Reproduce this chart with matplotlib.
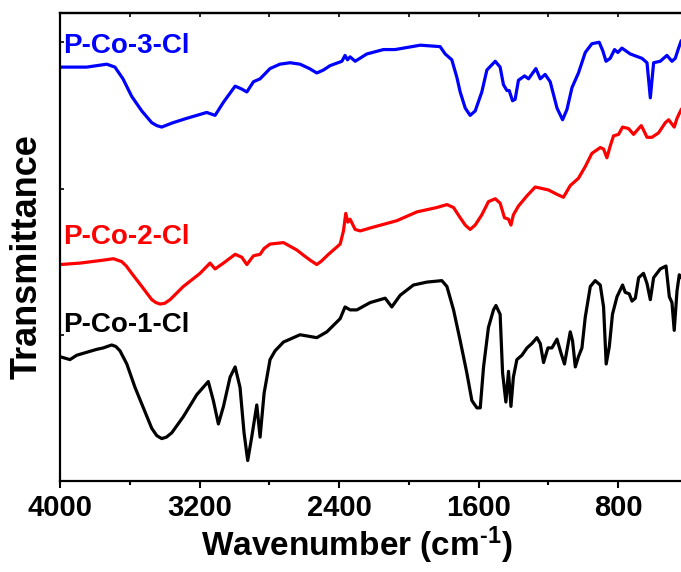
import numpy as np
import matplotlib
matplotlib.use("Agg")
import matplotlib.pyplot as plt

plt.rcParams['font.family'] = ['Liberation Sans', 'DejaVu Sans']
plt.rcParams['font.weight'] = 'bold'
plt.rcParams['mathtext.fontset'] = 'custom'
plt.rcParams['mathtext.rm'] = 'Liberation Sans:bold'
plt.rcParams['mathtext.bf'] = 'Liberation Sans:bold'
plt.rcParams['mathtext.it'] = 'Liberation Sans:bold'

# FTIR spectra (wavenumber in cm-1, transmittance offset a.u.)
wn_co3 = [4000, 3847, 3732, 3685, 3639, 3589, 3531, 3474, 3445, 3417, 3385, 3352, 3273,
          3159, 3111, 3063, 2996, 2958, 2929, 2891, 2853, 2796, 2740, 2681, 2624, 2570,
          2528, 2490, 2452, 2384, 2366, 2352, 2337, 2308, 2241, 2146, 2079, 2031, 1935,
          1821, 1792, 1754, 1725, 1706, 1677, 1649, 1620, 1582, 1553, 1505, 1477, 1458,
          1438, 1425, 1406, 1391, 1372, 1337, 1314, 1272, 1247, 1219, 1190, 1151, 1119,
          1094, 1065, 1028, 989, 951, 909, 888, 870, 846, 821, 802, 779, 731, 664, 635,
          616, 597, 559, 521, 492, 473, 454, 439, 400]
t_co3 = [2.83, 2.83, 2.85, 2.83, 2.75, 2.63, 2.53, 2.45, 2.43, 2.42, 2.435, 2.45, 2.48,
         2.52, 2.50, 2.59, 2.70, 2.68, 2.66, 2.73, 2.75, 2.82, 2.85, 2.86, 2.85, 2.82,
         2.79, 2.81, 2.84, 2.87, 2.91, 2.88, 2.90, 2.87, 2.92, 2.95, 2.95, 2.96, 2.98,
         2.97, 2.92, 2.88, 2.76, 2.66, 2.55, 2.50, 2.53, 2.66, 2.81, 2.87, 2.83, 2.71,
         2.67, 2.67, 2.60, 2.61, 2.74, 2.77, 2.75, 2.82, 2.75, 2.78, 2.73, 2.55, 2.47,
         2.54, 2.69, 2.79, 2.93, 2.99, 3.00, 2.94, 2.87, 2.89, 2.95, 2.93, 2.96, 2.92,
         2.89, 2.86, 2.62, 2.86, 2.87, 2.91, 2.87, 2.89, 2.96, 3.01, 3.05]

wn_co2 = [4000, 3885, 3752, 3694, 3646, 3620, 3589, 3531, 3474, 3450, 3427, 3400, 3369,
          3293, 3197, 3140, 3111, 3063, 2996, 2958, 2929, 2891, 2853, 2830, 2796, 2719,
          2643, 2600, 2566, 2528, 2500, 2461, 2394, 2375, 2362, 2350, 2337, 2308, 2279,
          2222, 2069, 1954, 1840, 1782, 1744, 1706, 1677, 1649, 1620, 1582, 1544, 1505,
          1477, 1452, 1429, 1415, 1401, 1372, 1323, 1276, 1237, 1200, 1151, 1114, 1075,
          1028, 989, 951, 903, 884, 865, 846, 827, 798, 775, 741, 712, 683, 668, 655, 635,
          607, 569, 530, 511, 479, 463, 439, 400]
t_co2 = [1.48, 1.49, 1.51, 1.52, 1.50, 1.47, 1.42, 1.33, 1.24, 1.22, 1.21, 1.215, 1.24,
         1.33, 1.42, 1.49, 1.45, 1.49, 1.55, 1.53, 1.48, 1.54, 1.55, 1.59, 1.62, 1.63,
         1.58, 1.54, 1.51, 1.48, 1.505, 1.55, 1.62, 1.71, 1.83, 1.77, 1.79, 1.72, 1.71,
         1.73, 1.78, 1.84, 1.87, 1.89, 1.87, 1.80, 1.75, 1.72, 1.75, 1.82, 1.91, 1.93,
         1.90, 1.80, 1.79, 1.75, 1.82, 1.88, 1.95, 2.01, 2.00, 1.99, 1.96, 1.94, 2.02,
         2.07, 2.15, 2.24, 2.28, 2.27, 2.21, 2.29, 2.36, 2.37, 2.42, 2.41, 2.37, 2.41,
         2.43, 2.40, 2.35, 2.35, 2.38, 2.45, 2.47, 2.42, 2.48, 2.54, 2.60]

wn_co1 = [4000, 3943, 3904, 3847, 3790, 3752, 3704, 3680, 3656, 3617, 3570, 3522, 3474,
          3445, 3417, 3390, 3359, 3293, 3216, 3150, 3121, 3092, 3063, 3025, 2996, 2968,
          2945, 2924, 2901, 2872, 2853, 2830, 2796, 2767, 2719, 2681, 2624, 2528, 2470,
          2394, 2366, 2337, 2298, 2222, 2136, 2098, 2050, 1974, 1897, 1811, 1782, 1744,
          1706, 1668, 1639, 1610, 1591, 1572, 1544, 1515, 1501, 1477, 1463, 1444, 1429,
          1415, 1401, 1381, 1352, 1323, 1295, 1266, 1247, 1228, 1203, 1180, 1151, 1127,
          1108, 1075, 1062, 1046, 1028, 1008, 989, 960, 932, 903, 884, 869, 851, 833, 807,
          775, 760, 737, 721, 702, 683, 655, 635, 616, 597, 559, 526, 507, 492, 479, 463,
          450, 439, 400]
t_co1 = [0.85, 0.83, 0.86, 0.88, 0.90, 0.91, 0.93, 0.92, 0.89, 0.80, 0.64, 0.50, 0.36,
         0.31, 0.29, 0.30, 0.33, 0.44, 0.59, 0.68, 0.55, 0.39, 0.51, 0.71, 0.78, 0.64,
         0.33, 0.14, 0.30, 0.52, 0.30, 0.60, 0.83, 0.89, 0.95, 0.97, 1.00, 0.98, 1.02,
         1.11, 1.19, 1.17, 1.17, 1.22, 1.25, 1.19, 1.27, 1.34, 1.36, 1.37, 1.33, 1.17,
         0.96, 0.74, 0.55, 0.50, 0.50, 0.78, 1.05, 1.17, 1.20, 1.14, 0.74, 0.54, 0.75,
         0.51, 0.71, 0.83, 0.86, 0.91, 0.94, 0.98, 0.94, 0.81, 0.91, 0.91, 0.97, 0.87,
         0.80, 1.02, 0.96, 0.78, 0.85, 0.91, 1.12, 1.33, 1.37, 1.34, 1.19, 0.80, 0.92,
         1.14, 1.26, 1.34, 1.29, 1.28, 1.23, 1.25, 1.39, 1.42, 1.35, 1.24, 1.39, 1.45,
         1.47, 1.26, 1.22, 1.03, 1.30, 1.41, 1.39, 1.40]

names = ['P-Co-1-Cl', 'P-Co-2-Cl', 'P-Co-3-Cl']
colors = ['black', '#ff0000', '#0000ff']
xticks_major = [4000, 3200, 2400, 1600, 800]
xticks_minor = [3600, 2800, 2000, 1200]

fig = plt.figure(figsize=(6.81, 5.72), dpi=100)
ax = fig.add_axes([60 / 681, 91 / 572, 628 / 681, 468 / 572])

line_kw = dict(lw=2.3, solid_joinstyle='round', solid_capstyle='round')
ax.plot(wn_co1, t_co1, color=colors[0], **line_kw)
ax.plot(wn_co2, t_co2, color=colors[1], **line_kw)
ax.plot(wn_co3, t_co3, color=colors[2], **line_kw)

# curve labels
ax.text(3983, 1.07, names[0], color=colors[0], fontsize=20, fontweight='bold',
        ha='left', va='center')
ax.text(3983, 1.665, names[1], color=colors[1], fontsize=20, fontweight='bold',
        ha='left', va='center')
ax.text(3983, 2.975, names[2], color=colors[2], fontsize=20, fontweight='bold',
        ha='left', va='center')

ax.set_xlim(4000, 400)
ax.set_ylim(0, 3.2)
ax.set_xticks(xticks_major)
ax.set_xticks(xticks_minor, minor=True)
ax.set_yticks([0, 1, 2, 3])
ax.set_yticklabels([])
ax.tick_params(axis='x', which='major', direction='out', length=5, width=1.5,
               labelsize=21, pad=4)
ax.tick_params(axis='x', which='minor', direction='out', length=3, width=1.5)
ax.tick_params(axis='y', which='major', direction='in', length=3, width=1.2)
for lab in ax.get_xticklabels():
    lab.set_fontweight('bold')

# small inward ticks on the top frame
top = ax.secondary_xaxis('top')
top.set_xticks(xticks_major + xticks_minor)
top.tick_params(direction='in', length=3, width=1.2, labeltop=False)

for sp in ax.spines.values():
    sp.set_linewidth(1.6)
top.spines['top'].set_linewidth(1.6)

ax.set_xlabel('Wavenumber (cm$^{\\text{-1}}$)', fontsize=24, fontweight='bold')
ax.xaxis.set_label_coords(0.473, -0.094)
ax.set_ylabel('Transmittance', fontsize=26, fontweight='bold')
ax.yaxis.set_label_coords(-0.024, 0.479)

fig.savefig('out.png', dpi=100)
